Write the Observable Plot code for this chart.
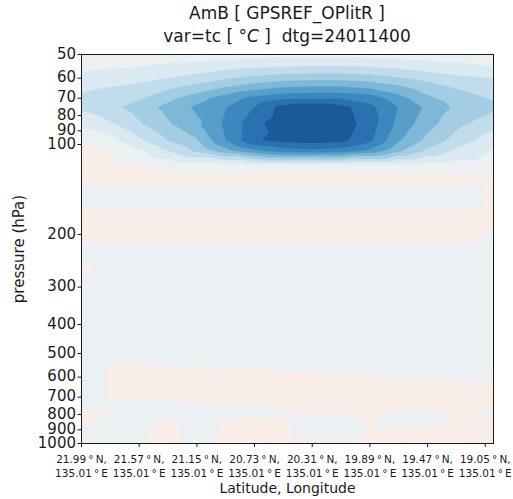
<!DOCTYPE html>
<html><head><meta charset="utf-8">
<script src="https://cdn.jsdelivr.net/npm/d3@7"></script>
<script src="https://cdn.jsdelivr.net/npm/@observablehq/plot@0.6"></script>
<style>
body{margin:0;background:#fff;}
#wrap{position:relative;width:513px;height:499px;font-family:"DejaVu Sans",sans-serif;}
#title{position:absolute;left:81px;width:412px;top:2px;text-align:center;font-size:17px;line-height:23px;color:#1a1a1a;white-space:nowrap;}
#chart{position:absolute;left:0;top:0;}
</style></head><body>
<div id="wrap"><div id="chart"></div><div id="title">AmB [ GPSREF_OPlitR ]<br>var=tc [ °<i>C</i> ]&nbsp; dtg=24011400</div></div>
<script>
// columns (latitude, all at 135.01°E)
const lats = [21.99, 21.78, 21.57, 21.36, 21.15, 20.94, 20.73, 20.52, 20.31, 20.10, 19.89, 19.68, 19.47, 19.26, 18.99];
// rows (pressure, hPa)
const pressures = [50, 55, 60, 65, 70, 75, 85, 97, 105, 118, 130, 150, 175, 200, 230, 260, 300, 350, 400, 450, 500, 550, 600, 650, 700, 750, 800, 850, 900, 950, 1000];
// temperature difference (°C), one row per pressure level
const values = [
  [-0.2,-0.2,-0.2,-0.25,-0.25,-0.3,-0.3,-0.35,-0.35,-0.35,-0.3,-0.3,-0.25,-0.25,-0.25],
  [-0.4,-0.45,-0.5,-0.6,-0.7,-0.85,-0.95,-1.0,-1.05,-1.05,-1.0,-0.9,-0.75,-0.6,-0.5],
  [-0.65,-0.75,-0.85,-1.0,-1.2,-1.45,-1.65,-1.8,-1.85,-1.85,-1.75,-1.55,-1.35,-1.15,-1.0],
  [-0.9,-1.05,-1.2,-1.45,-1.75,-2.1,-2.4,-2.6,-2.65,-2.65,-2.5,-2.2,-1.8,-1.5,-1.25],
  [-1.1,-1.3,-1.45,-1.85,-2.3,-2.75,-3.15,-3.4,-3.45,-3.45,-3.3,-2.7,-2.1,-1.75,-1.45],
  [-1.1,-1.37,-1.73,-2.16,-2.59,-2.98,-3.52,-4.2,-4.4,-4.18,-3.64,-2.97,-2.38,-1.9,-1.6],
  [-0.6,-0.95,-1.45,-1.95,-2.4,-3.1,-3.85,-4.3,-4.4,-4.3,-3.75,-2.85,-2.2,-1.65,-1.2],
  [0.02,-0.3,-0.9,-1.5,-1.95,-3.0,-3.95,-4.15,-4.2,-4.15,-3.6,-2.55,-1.85,-1.3,-0.7],
  [0.15,0.05,-0.4,-1.0,-1.6,-2.3,-2.9,-3.3,-3.35,-3.3,-2.9,-2.1,-1.4,-0.9,-0.45],
  [0.1,0.05,0.05,-0.1,-0.2,-0.2,-0.2,-0.2,-0.2,-0.2,-0.2,-0.2,-0.2,-0.2,-0.2],
  [0.1,0.15,0.15,0.15,0.15,0.15,0.15,0.15,0.15,0.15,0.15,0.15,0.15,0.15,0.1],
  [-0.25,-0.25,-0.25,-0.25,-0.25,-0.25,-0.25,-0.25,-0.25,-0.25,-0.25,-0.25,-0.25,-0.25,0.05],
  [0.2,0.2,0.2,0.2,0.2,0.2,0.2,0.2,0.2,0.2,0.2,0.2,0.2,0.2,0.15],
  [0.2,0.2,0.2,0.2,0.2,0.2,0.2,0.2,0.2,0.2,0.2,0.2,0.2,0.2,-0.05],
  [-0.2,-0.2,-0.2,-0.2,-0.2,-0.2,-0.2,-0.2,-0.2,-0.2,-0.2,-0.2,-0.2,-0.2,-0.2],
  [0.1,-0.2,-0.2,-0.2,-0.2,-0.2,-0.2,-0.2,-0.2,-0.2,-0.2,-0.2,-0.2,-0.2,-0.2],
  [-0.2,-0.2,-0.2,-0.2,-0.2,-0.2,-0.2,-0.2,-0.2,-0.2,-0.2,-0.2,-0.2,-0.2,-0.2],
  [-0.2,-0.2,-0.2,-0.2,-0.2,-0.2,-0.2,-0.2,-0.2,-0.2,-0.2,-0.2,-0.2,-0.2,-0.2],
  [-0.2,-0.2,-0.2,-0.2,-0.2,-0.2,-0.2,-0.2,-0.2,-0.2,-0.2,-0.2,-0.2,-0.2,-0.2],
  [-0.2,-0.2,-0.2,-0.2,-0.2,-0.2,-0.2,-0.2,-0.2,-0.2,-0.2,-0.2,-0.2,-0.2,-0.2],
  [-0.2,-0.2,-0.2,-0.2,-0.2,-0.2,-0.2,-0.2,-0.2,-0.2,-0.2,-0.2,-0.2,-0.2,-0.2],
  [-0.3,0.05,0.03,-0.01,-0.02,-0.04,-0.07,-0.1,-0.12,-0.15,-0.15,-0.2,-0.2,-0.2,-0.2],
  [-0.4,0.05,0.15,0.15,0.15,0.15,0.15,0.12,0.1,0.06,0.03,-0.01,-0.03,-0.05,-0.1],
  [-0.4,0.05,0.15,0.15,0.15,0.15,0.15,0.15,0.15,0.12,0.1,0.12,0.12,0.12,0.1],
  [-0.15,0.02,0.1,0.1,0.12,0.12,0.12,0.1,0.12,0.12,0.12,0.12,0.12,0.12,0.12],
  [-0.05,-0.1,-0.1,-0.1,-0.05,-0.02,-0.03,0.02,0.08,0.08,0.1,0.08,0.08,0.1,0.05],
  [0.15,-0.02,-0.1,-0.1,-0.1,-0.08,-0.05,-0.02,0.02,0.02,0.08,-0.05,-0.05,0.02,-0.05],
  [0.05,-0.1,-0.1,0.05,-0.1,0.02,0.1,0.05,-0.1,-0.1,0.02,-0.1,-0.08,0.05,0.05],
  [-0.1,-0.15,-0.05,0.1,-0.1,0.05,0.1,0.05,-0.15,-0.15,0.02,0.05,0.05,0.1,0.1],
  [-0.15,-0.15,-0.05,0.1,-0.1,0.05,0.1,0.05,-0.1,-0.1,0.05,0.1,0.1,0.1,0.1],
  [-0.15,-0.1,-0.05,0.1,-0.1,0.05,0.1,0.05,0.02,0.02,0.08,0.1,0.1,0.1,0.1]
];
const tickLats = [21.99, 21.57, 21.15, 20.73, 20.31, 19.89, 19.47, 19.05];
const tickLon = 135.01;
const tickPressures = [50, 60, 70, 80, 90, 100, 200, 300, 400, 500, 600, 700, 800, 900, 1000];
const levels = [-5, -4, -3.5, -3, -2.5, -2, -1.5, -1, -0.5, 0];
const bandColors = ["#1a5a99","#2a71b2","#3a88bd","#579fca","#7eb8d7","#a2cde2","#c1ddeb","#dbe9f2","#ebf0f3","#f8ede7"];

const points = [];
pressures.forEach((p, i) => lats.forEach((lat, j) => points.push({lat, p, v: values[i][j]})));

const chart = Plot.plot({
  width: 513, height: 499,
  marginTop: 54, marginBottom: 56, marginLeft: 81, marginRight: 20,
  style: {fontFamily: "DejaVu Sans", color: "#1a1a1a", background: "transparent"},
  x: {domain: [21.99, 18.99]},
  y: {type: "log", domain: [50, 1000], reverse: true},
  color: {type: "threshold", domain: levels.slice(1), range: bandColors},
  marks: [
    Plot.frame({fill: bandColors[0]}),
    Plot.contour(points, {x: "lat", y: "p", fill: "v", thresholds: levels, interpolate: "barycentric", pixelSize: 1, stroke: "none"}),
    Plot.frame({stroke: "#1a1a1a"}),
    Plot.axisY({ticks: tickPressures, tickSize: 3.5, fill: "none", label: null}),
    Plot.text(tickPressures, {y: d => d, frameAnchor: "left", textAnchor: "end", dx: -5.5, fontSize: 15, lineHeight: 0.85, text: d => String(d)}),
    Plot.axisX({ticks: tickLats, tickFormat: d => `${d.toFixed(2)}\u2009°\u2009N,\n${tickLon.toFixed(2)}\u2009°\u2009E`, fontSize: 10.5, tickSize: 4, tickPadding: 5.5, lineHeight: 1.35, label: null}),
    Plot.text(["pressure (hPa)"], {frameAnchor: "left", textAnchor: "middle", rotate: -90, dx: -62, fontSize: 15, text: d => d}),
    Plot.text(["Latitude, Longitude"], {frameAnchor: "bottom", dy: 49, fontSize: 14, text: d => d})
  ]
});
document.getElementById("chart").appendChild(chart);
</script>
</body></html>
